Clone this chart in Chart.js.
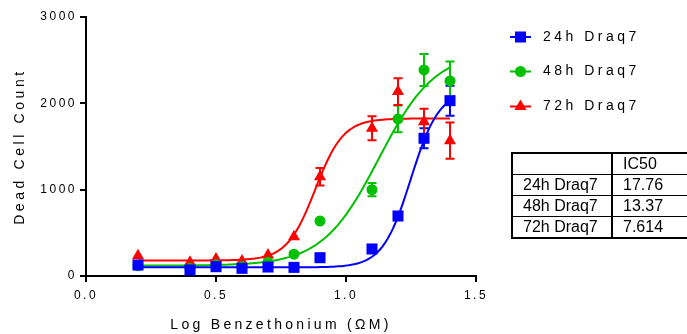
<!DOCTYPE html>
<html>
<head>
<meta charset="utf-8">
<script src="https://cdn.jsdelivr.net/npm/chart.js@4.4.1/dist/chart.umd.min.js"></script>
<style>
    body { margin: 0; background: #fff; }
    #wrap { position: relative; width: 687px; height: 334px; overflow: hidden; }
    #ic50Table {
        position: absolute; left: 511px; top: 152px; width: 200px;
        border-collapse: collapse; border: 2px solid #000;
        font-family: "Liberation Sans", Arial, sans-serif; font-size: 16px; color: #000;
    }
    #ic50Table td { border: 1px solid #000; height: 20px; padding: 0 0 0 10px; line-height: 20px; }
    #ic50Table td:first-child { width: 88px; border-right: 2px solid #000; }
</style>
</head>
<body>
<div id="wrap">
    <canvas id="chart" width="687" height="334"></canvas>
    <table id="ic50Table"><tbody id="ic50Body"></tbody></table>
</div>
<script>
    const seriesNames = ['24h Draq7', '48h Draq7', '72h Draq7'];
    const seriesColors = ['#0000FF', '#00C000', '#FF0000'];
    const seriesShapes = ['rect', 'circle', 'triangle'];
    const seriesRadius = [7.8, 5.5, 7];

    const logDose = [0.2, 0.4, 0.5, 0.6, 0.7, 0.8, 0.9, 1.1, 1.2, 1.3, 1.4];
    const count24 = [127, 70, 108, 89, 104, 100, 212, 313, 695, 1595, 2031];
    const count48 = [120, 90, 130, 110, 160, 253, 637, 1000, 1819, 2387, 2260];
    const count72 = [235, 158, 197, 174, 243, 455, 1150, 1711, 2136, 1788, 1568];
    const err24 = [0, 0, 0, 0, 0, 0, 0, 0, 0, 116, 174];
    const err48 = [0, 0, 0, 0, 0, 0, 0, 77, 155, 185, 224];
    const err72 = [0, 0, 0, 0, 0, 0, 102, 140, 155, 150, 209];

    // 4-parameter logistic fits (IC50 from the table)
    const ic50 = [17.76, 13.37, 7.614];
    const fitBottom = [100, 120, 180];
    const fitTop = [2150, 2600, 1825];
    const fitHill = [8, 4, 8];
    const fitFrom = 0.2;
    const fitTo = 1.4;

    const xTicks = [0.0, 0.5, 1.0, 1.5];
    const yTicks = [0, 1000, 2000, 3000];
    const xTitle = 'Log Benzethonium (\u03A9M)';
    const yTitle = 'Dead Cell Count';

    const counts = [count24, count48, count72];
    const errors = [err24, err48, err72];
    const FONT = '"Liberation Sans", Arial, sans-serif';

    function fitCurve(i) {
        const logIc = Math.log10(ic50[i]);
        const pts = [];
        for (let k = 0; k <= 120; k++) {
            const x = fitFrom + (fitTo - fitFrom) * k / 120;
            const y = fitBottom[i] + (fitTop[i] - fitBottom[i]) / (1 + Math.pow(10, (logIc - x) * fitHill[i]));
            pts.push({ x, y });
        }
        return pts;
    }

    const datasets = [];
    seriesNames.forEach((name, i) => {
        datasets.push({
            label: name,
            data: logDose.map((x, k) => ({ x, y: counts[i][k] })),
            errors: errors[i],
            showLine: false,
            pointStyle: seriesShapes[i],
            pointRadius: seriesRadius[i],
            backgroundColor: seriesColors[i],
            borderColor: seriesColors[i],
            borderWidth: 0
        });
        datasets.push({
            label: name + ' fit',
            data: fitCurve(i),
            showLine: true,
            pointRadius: 0,
            borderColor: seriesColors[i],
            borderWidth: 2,
            fill: false
        });
    });

    // Prism-style wide letter spacing for tick labels
    const tickSpacing = {
        id: 'tickSpacing',
        beforeLayout(chart) { chart.ctx.letterSpacing = '2.5px'; },
        beforeDraw(chart) { chart.ctx.letterSpacing = '2.5px'; }
    };

    const errorBars = {
        id: 'errorBars',
        beforeDatasetsDraw(chart) {
            const ctx = chart.ctx;
            const xs = chart.scales.x, ys = chart.scales.y;
            ctx.save();
            chart.data.datasets.forEach(ds => {
                if (!ds.errors) return;
                ctx.strokeStyle = ds.borderColor;
                ctx.lineWidth = 2;
                ds.data.forEach((p, k) => {
                    const e = ds.errors[k];
                    if (!e) return;
                    const px = xs.getPixelForValue(p.x);
                    const top = ys.getPixelForValue(p.y + e);
                    const bot = ys.getPixelForValue(p.y - e);
                    ctx.beginPath();
                    ctx.moveTo(px, top); ctx.lineTo(px, bot);
                    ctx.moveTo(px - 4.5, top); ctx.lineTo(px + 4.5, top);
                    ctx.moveTo(px - 4.5, bot); ctx.lineTo(px + 4.5, bot);
                    ctx.stroke();
                });
            });
            ctx.restore();
        }
    };

    const titlesAndLegend = {
        id: 'titlesAndLegend',
        afterDraw(chart) {
            const ctx = chart.ctx;
            const area = chart.chartArea;
            ctx.save();
            ctx.fillStyle = '#000';
            ctx.font = '14px ' + FONT;
            ctx.letterSpacing = '3.3px';
            ctx.textAlign = 'center';
            ctx.textBaseline = 'middle';
            ctx.fillText(xTitle, (area.left + area.right) / 2, 325);
            ctx.save();
            ctx.translate(20, (area.top + area.bottom) / 2);
            ctx.rotate(-Math.PI / 2);
            ctx.letterSpacing = '3.6px';
            ctx.fillText(yTitle, 0, 0);
            ctx.restore();

            ctx.letterSpacing = '3.5px';
            ctx.textAlign = 'left';
            const rowY = [37, 71.5, 106.5];
            seriesNames.forEach((name, i) => {
                const y = rowY[i];
                ctx.strokeStyle = seriesColors[i];
                ctx.lineWidth = 2;
                ctx.beginPath();
                ctx.moveTo(510, y); ctx.lineTo(531, y);
                ctx.stroke();
                ctx.fillStyle = seriesColors[i];
                Chart.helpers.drawPoint(ctx, {
                    pointStyle: seriesShapes[i], radius: seriesRadius[i], borderWidth: 0, rotation: 0
                }, 520.5, y);
                ctx.fillStyle = '#000';
                ctx.fillText(name, 543, y);
            });
            ctx.restore();
        }
    };

    new Chart(document.getElementById('chart'), {
        type: 'scatter',
        data: { datasets },
        options: {
            responsive: false,
            animation: false,
            layout: { padding: { left: 0, top: 17, right: 211, bottom: 0 } },
            plugins: { legend: { display: false }, tooltip: { enabled: false } },
            scales: {
                x: {
                    type: 'linear', min: 0, max: 1.5,
                    afterBuildTicks: s => { s.ticks = xTicks.map(v => ({ value: v })); },
                    afterFit: s => { s.height = 58; },
                    border: { display: true, color: '#000', width: 2 },
                    grid: { display: true, drawOnChartArea: false, drawTicks: true, tickLength: 6, color: '#000', lineWidth: 2 },
                    ticks: { color: '#000', font: { family: FONT, size: 12 }, padding: 6, maxRotation: 0,
                             callback: v => v.toFixed(1) }
                },
                y: {
                    type: 'linear', min: 0, max: 3000,
                    afterBuildTicks: s => { s.ticks = yTicks.map(v => ({ value: v })); },
                    afterFit: s => { s.width = 86; },
                    border: { display: true, color: '#000', width: 2 },
                    grid: { display: true, drawOnChartArea: false, drawTicks: true, tickLength: 6, color: '#000', lineWidth: 2 },
                    ticks: { color: '#000', font: { family: FONT, size: 12 }, padding: 3,
                             callback: v => String(v) }
                }
            }
        },
        plugins: [tickSpacing, errorBars, titlesAndLegend]
    });

    function renderTable() {
        const body = document.getElementById('ic50Body');
        body.innerHTML = '<tr><td></td><td>IC50</td></tr>';
        seriesNames.forEach((name, i) => {
            body.innerHTML += `<tr><td>${name}</td><td>${ic50[i]}</td></tr>`;
        });
    }

    renderTable();
</script>
</body>
</html>
